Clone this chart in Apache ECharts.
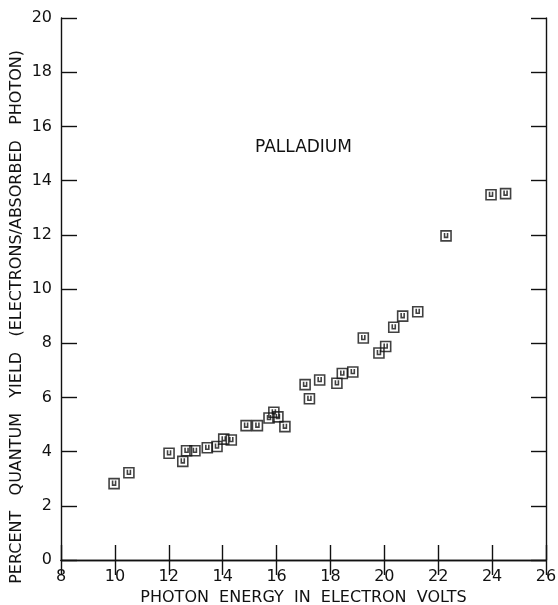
<!DOCTYPE html>
<html>
<head>
<meta charset="utf-8">
<script src="https://cdn.jsdelivr.net/npm/echarts@6/dist/echarts.min.js"></script>
<style>html,body{margin:0;padding:0;background:#fff}#c{width:558px;height:605px}</style>
</head>
<body>
<div id="c"></div>
<script>
const energy = [9.97, 10.52, 12.01, 12.52, 12.66, 12.97, 13.43, 13.79, 14.04, 14.32, 14.87, 15.29, 15.72, 15.90, 16.05, 16.31, 17.06, 17.22, 17.60, 18.24, 18.44, 18.83, 19.22, 19.80, 20.05, 20.35, 20.68, 21.24, 22.29, 23.96, 24.50];
const yieldPct = [2.82, 3.22, 3.94, 3.64, 4.03, 4.03, 4.14, 4.19, 4.46, 4.43, 4.96, 4.96, 5.24, 5.45, 5.28, 4.92, 6.47, 5.95, 6.64, 6.52, 6.88, 6.94, 8.19, 7.64, 7.88, 8.59, 9.00, 9.16, 11.96, 13.48, 13.52];
const xTicks = [8, 10, 12, 14, 16, 18, 20, 22, 24, 26];
const yTicks = [0, 2, 4, 6, 8, 10, 12, 14, 16, 18, 20];

const ink = '#111';
const font = 'DejaVu Sans';
const chart = echarts.init(document.getElementById('c'), null, {renderer: 'canvas'});
const mirror = {
  axisLine: {show: true, lineStyle: {color: ink, width: 1.4}},
  axisTick: {show: true, inside: true, length: 15, lineStyle: {color: ink, width: 1.4}},
  axisLabel: {show: false},
  splitLine: {show: false}
};
chart.setOption({
  animation: false,
  backgroundColor: '#fff',
  grid: {left: 61, right: 12, top: 18, bottom: 45, containLabel: false, outerBoundsMode: 'none'},
  title: {
    text: 'PALLADIUM', left: 250, top: 134,
    textStyle: {fontFamily: font, fontSize: 17, fontWeight: 'normal', color: ink}
  },
  graphic: [{
    type: 'text', left: 9, top: 50, rotation: Math.PI / 2,
    style: {text: 'PERCENT   QUANTUM   YIELD   (ELECTRONS/ABSORBED   PHOTON)',
      font: '16px "DejaVu Sans"', fill: ink}
  }],
  xAxis: [{
    type: 'value', min: 8, max: 26, interval: 2, position: 'bottom',
    name: 'PHOTON  ENERGY  IN  ELECTRON  VOLTS', nameLocation: 'middle', nameGap: 30,
    nameTextStyle: {fontFamily: font, fontSize: 16, color: ink},
    axisLine: {show: true, lineStyle: {color: ink, width: 1.4}},
    axisTick: {show: true, inside: true, length: 15, lineStyle: {color: ink, width: 1.4}},
    axisLabel: {fontFamily: font, fontSize: 16, color: ink, margin: 9,
      formatter: v => xTicks.includes(v) ? String(v) : ''},
    splitLine: {show: false}
  }, Object.assign({type: 'value', min: 8, max: 26, interval: 2, position: 'top'}, mirror)],
  yAxis: [{
    type: 'value', min: 0, max: 20, interval: 2, position: 'left',
    axisLine: {show: true, lineStyle: {color: ink, width: 1.4}},
    axisTick: {show: true, inside: true, length: 16, lineStyle: {color: ink, width: 1.4}},
    axisLabel: {fontFamily: font, fontSize: 16, color: ink, margin: 9,
      formatter: v => yTicks.includes(v) ? String(v) : ''},
    splitLine: {show: false}
  }, Object.assign({type: 'value', min: 0, max: 20, interval: 2, position: 'right'}, mirror)],
  series: [{
    type: 'scatter',
    data: energy.map((e, i) => [e, yieldPct[i]]),
    symbol: 'path://M0,0L10,0L10,10L0,10ZM3.5,2L3.5,6.5L6.5,6.5L6.5,2',
    symbolSize: 10,
    itemStyle: {color: 'rgba(0,0,0,0)', borderColor: ink, borderWidth: 1.6},
    silent: true
  }]
});
</script>
</body>
</html>
